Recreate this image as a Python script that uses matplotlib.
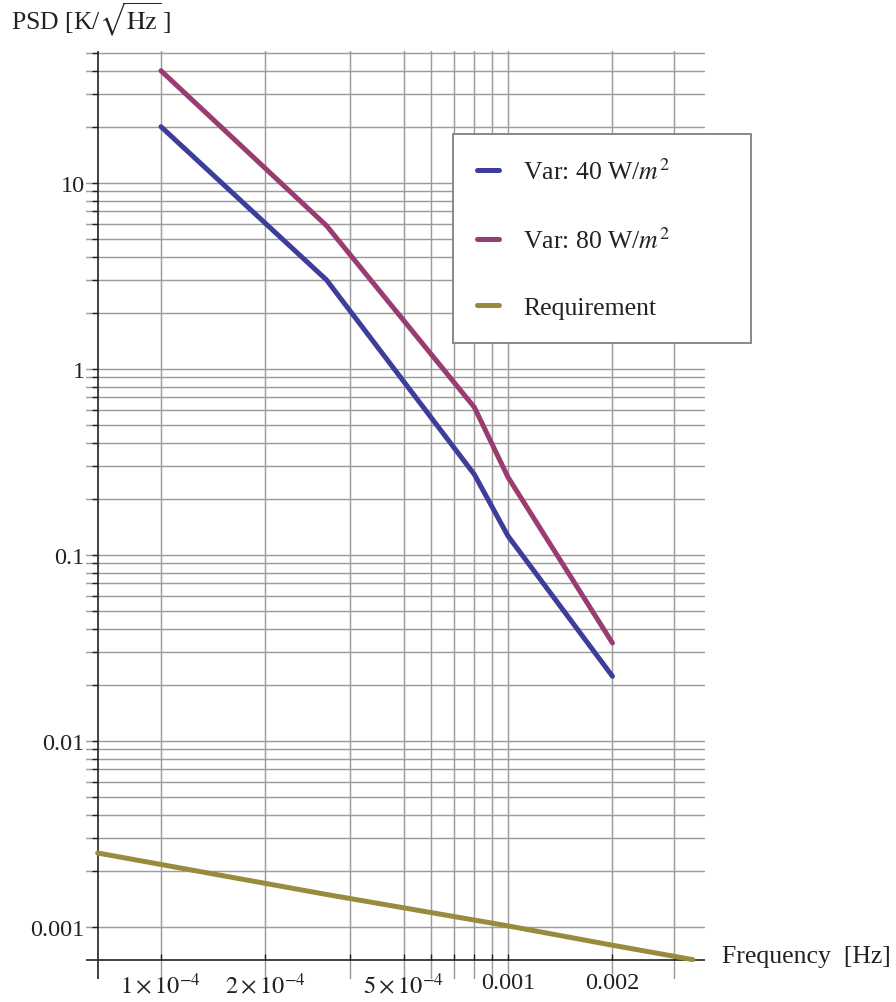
import matplotlib
matplotlib.use("Agg")
import matplotlib.pyplot as plt
import numpy as np

plt.rcParams['font.family'] = ['Liberation Serif', 'DejaVu Serif']
plt.rcParams['mathtext.fontset'] = 'stix'

# ---- data ----
freq_var = [1e-4, 3e-4, 8e-4, 1e-3, 2e-3]
psd_var40 = [20.0, 3.0, 0.27, 0.126, 0.0222]
psd_var80 = [40.0, 5.87, 0.62, 0.261, 0.0335]

freq_req = [6.57e-5, 1e-4, 3e-4, 1e-3, 2e-3, 3.41e-3]
psd_req = [2.49e-3, 2.16e-3, 1.49e-3, 1.01e-3, 7.95e-4, 6.65e-4]

labels = ["Var: 40 W/$m^2$", "Var: 80 W/$m^2$", "Requirement"]
colors = ["#3d3d9c", "#993d71", "#998b3d"]

x_ticks = [1e-4, 2e-4, 5e-4, 1e-3, 2e-3]
x_ticklabels = [r"$1\times10^{-4}$", r"$2\times10^{-4}$", r"$5\times10^{-4}$", "0.001", "0.002"]
y_ticks = [0.001, 0.01, 0.1, 1, 10]
y_ticklabels = ["0.001", "0.01", "0.1", "1", "10"]

x_grid = [1e-4, 2e-4, 3.5e-4, 5e-4, 6e-4, 7e-4, 8e-4, 9e-4, 1e-3, 2e-3, 3e-3]
y_grid = [m * 10.0 ** k for k in range(-3, 1) for m in range(1, 10)] + [10, 20, 30, 40, 50]

x_limits = (6.08e-5, 3.696e-3)
y_limits = (5.233e-4, 51.05)
x_axis_pos = 6.62e-4   # y value where the horizontal axis is drawn
y_axis_pos = 6.57e-5   # x value where the vertical axis is drawn

# ---- figure ----
W, H = 896, 1003
fig = plt.figure(figsize=(W / 100, H / 100), dpi=100)
L, R, T, B = 86, 705, 52, 980
ax = fig.add_axes([L / W, 1 - B / H, (R - L) / W, (B - T) / H])
ax.set_xscale('log')
ax.set_yscale('log')
ax.set_xlim(*x_limits)
ax.set_ylim(*y_limits)
for s in ax.spines.values():
    s.set_visible(False)

grid_kw = dict(color='#9c9c9c', lw=1.05, zorder=1)
for gx in x_grid:
    ax.axvline(gx, **grid_kw)
for gy in y_grid:
    ax.axhline(gy, **grid_kw)

ax.axhline(x_axis_pos, color='#333333', lw=1.3, zorder=2)
ax.axvline(y_axis_pos, color='#333333', lw=1.3, zorder=2)

# small axis tick marks
ax.plot([y_axis_pos] * len(y_grid), y_grid, ls='none', marker=0, ms=4, color='#222222', mew=1.0, zorder=2)
ax.plot(x_grid, [x_axis_pos] * len(x_grid), ls='none', marker=2, ms=4, color='#222222', mew=1.0, zorder=2)

lw = 3.6
kw = dict(lw=lw, zorder=4, solid_joinstyle='round', solid_capstyle='round')
l1, = ax.plot(freq_var, psd_var40, color=colors[0], **kw)
l2, = ax.plot(freq_var, psd_var80, color=colors[1], **kw)
l3, = ax.plot(freq_req, psd_req, color=colors[2], **kw)

ax.set_xticks(x_ticks)
ax.set_xticklabels(x_ticklabels)
ax.xaxis.set_minor_locator(matplotlib.ticker.NullLocator())
ax.set_yticks(y_ticks)
ax.set_yticklabels(y_ticklabels)
ax.yaxis.set_minor_locator(matplotlib.ticker.NullLocator())
ax.tick_params(axis='x', length=0, pad=-5, labelsize=17.5, colors='#222222')
ax.tick_params(axis='y', length=0, pad=1, labelsize=17.5, colors='#222222')

fig.text(722 / W, 1 - 957 / H, "Frequency  [Hz]", fontsize=18.5, ha='left', va='center', color='#222222')
fig.text(11 / W, 1 - 20 / H, r"PSD [K/$\sqrt{\mathrm{Hz}}\,$]", fontsize=18.5, ha='left', va='center', color='#222222')

leg = ax.legend([l1, l2, l3], labels, loc='upper left',
                bbox_to_anchor=(452.7 / W, 1 - 135 / H, (751 - 452.7) / W, 0),
                bbox_transform=fig.transFigure, mode='expand',
                fontsize=18.5, frameon=True, fancybox=False, framealpha=1,
                edgecolor='#808080', borderpad=0.95, labelspacing=1.67,
                handlelength=0.86, handletextpad=0.92, borderaxespad=0)
leg.get_frame().set_linewidth(1.3)
for t in leg.get_texts():
    t.set_color('#222222')

fig.savefig("out.png", dpi=100)
